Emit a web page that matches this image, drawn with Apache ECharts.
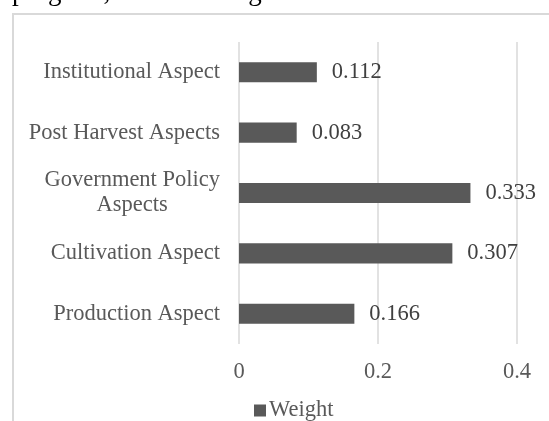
<!DOCTYPE html>
<html>
<head>
<meta charset="utf-8">
<style>
  html, body { margin: 0; padding: 0; background: #ffffff; }
  #chart { width: 549px; height: 421px; }
</style>
<script src="https://cdn.jsdelivr.net/npm/echarts@6/dist/echarts.min.js"></script>
</head>
<body>
<div id="chart"></div>
<script>
// Categories listed bottom to top, as the value axis runs upward
const categories = [
  'Production Aspect',
  'Cultivation Aspect',
  'Government Policy Aspects',
  'Post Harvest Aspects',
  'Institutional Aspect'
];
const weights = [0.166, 0.307, 0.333, 0.083, 0.112];
const xTicks = [0, 0.2, 0.4];
const seriesName = 'Weight';
const captionText = 'program, the following result is obtained.';

const serif = '"Liberation Serif", "Times New Roman", serif';
const fs = 22.5;

const chart = echarts.init(document.getElementById('chart'), null, { renderer: 'canvas' });

chart.setOption({
  backgroundColor: '#ffffff',
  animation: false,
  graphic: [
    {
      type: 'text',
      x: 12,
      y: 6,
      style: {
        text: captionText,
        font: '27px ' + serif,
        fill: '#000000',
        verticalAlign: 'bottom'
      }
    },
    {
      type: 'rect',
      shape: { x: 13, y: 14, width: 600, height: 500 },
      style: { fill: 'none', stroke: '#d9d9d9', lineWidth: 2 }
    }
  ],
  legend: {
    data: [seriesName],
    left: 249,
    top: 394,
    icon: 'rect',
    itemWidth: 12,
    itemHeight: 12,
    itemGap: 10,
    textStyle: { fontFamily: serif, fontSize: fs, color: '#595959', padding: [0, 0, 0, -2] }
  },
  grid: {
    left: 239,
    right: 32,
    top: 42,
    bottom: 77,
    containLabel: false
  },
  xAxis: {
    type: 'value',
    min: xTicks[0],
    max: xTicks[xTicks.length - 1],
    interval: xTicks[1] - xTicks[0],
    axisLine: { show: false },
    axisTick: { show: false },
    splitLine: { show: true, lineStyle: { color: '#d9d9d9', width: 1.5 } },
    axisLabel: {
      margin: 17,
      fontFamily: serif,
      fontSize: fs,
      color: '#595959',
      formatter: v => String(+v.toFixed(1))
    }
  },
  yAxis: {
    type: 'category',
    data: categories,
    axisLine: { show: false },
    axisTick: { show: false },
    axisLabel: {
      margin: 19,
      fontFamily: serif,
      fontSize: fs,
      color: '#595959',
      lineHeight: 25,
      formatter: function (name) {
        if (name === 'Government Policy Aspects') {
          return '{c|Government Policy}\n{c|Aspects}';
        }
        return '{c|' + name + '}';
      },
      rich: {
        c: { align: 'center', fontFamily: serif, fontSize: fs, color: '#595959', lineHeight: 25 }
      }
    }
  },
  series: [
    {
      name: seriesName,
      type: 'bar',
      data: weights,
      barCategoryGap: '66.7%',
      itemStyle: { color: '#595959' },
      label: {
        show: true,
        position: 'right',
        distance: 15,
        fontFamily: serif,
        fontSize: fs,
        color: '#404040',
        formatter: p => p.value.toFixed(3)
      }
    }
  ]
});
</script>
</body>
</html>
